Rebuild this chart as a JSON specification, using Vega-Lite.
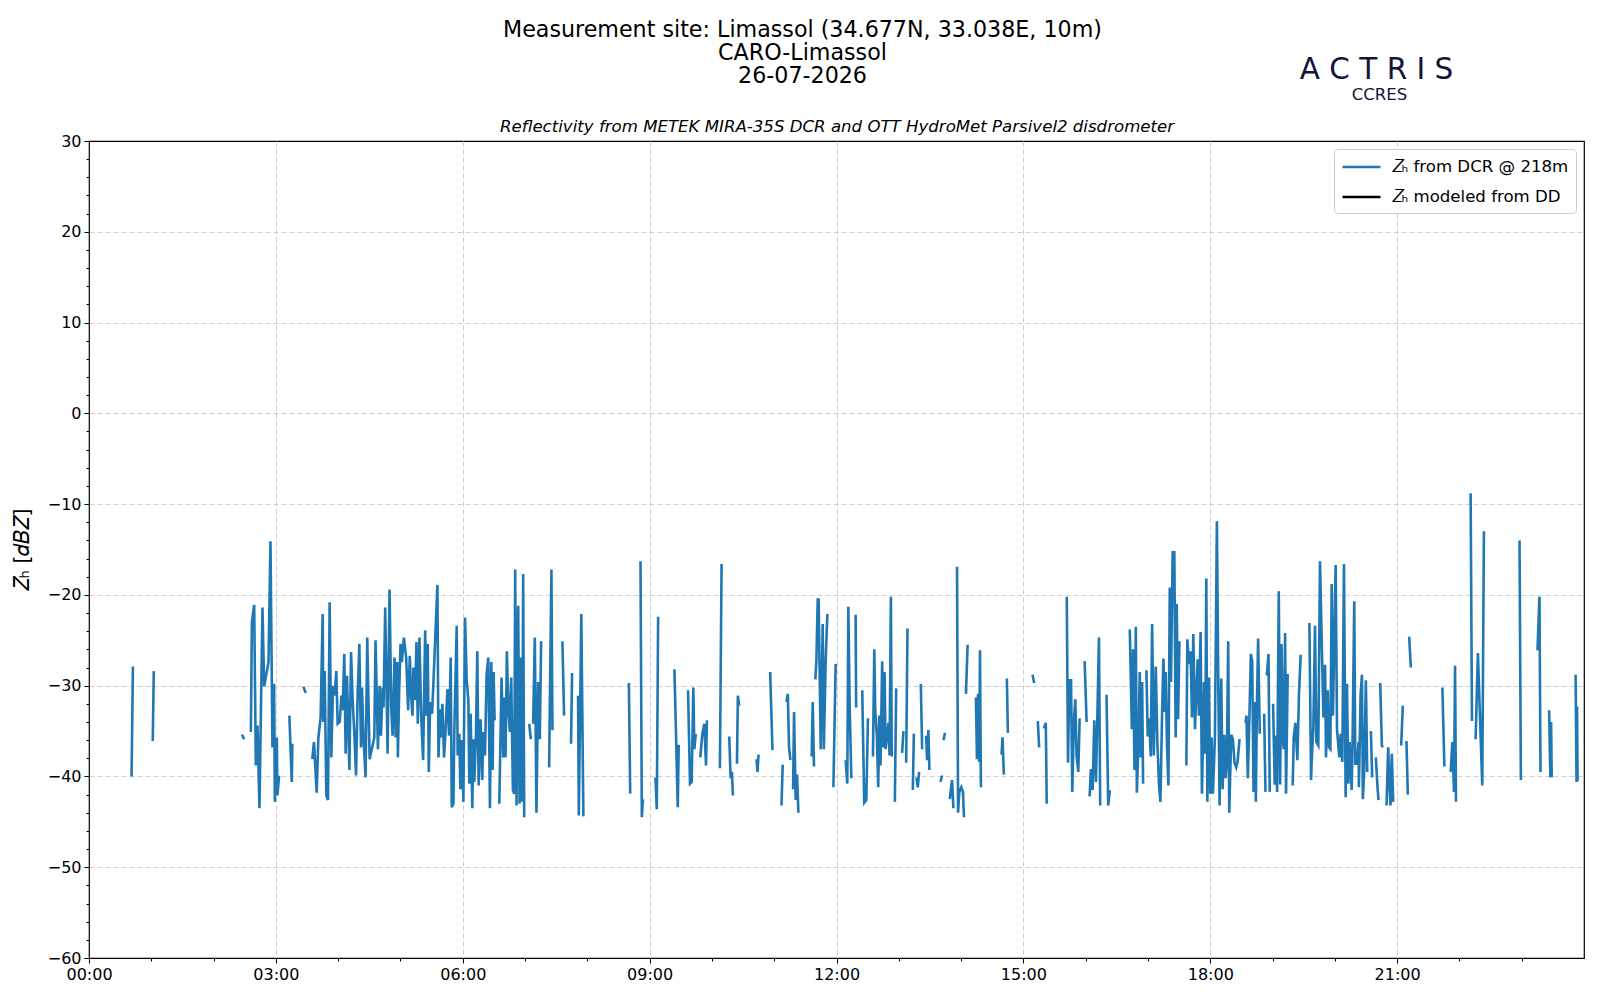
{
"$schema": "https://vega.github.io/schema/vega-lite/v6.json",
"width": 1600, "height": 1000,
"autosize": {"type": "fit", "contains": "padding"},
"padding": {"left": 12, "right": 16, "top": 18, "bottom": 18},
"background": "white",
"title": {"text": ["Measurement site: Limassol (34.677N, 33.038E, 10m)", "CARO-Limassol", "26-07-2026"], "anchor": "middle", "frame": "group", "dx": -34, "fontSize": 22.2, "fontWeight": "normal", "font": "DejaVu Sans", "lineHeight": 23, "offset": -33, "color": "black"},
"config": {
  "view": {"stroke": "black", "strokeWidth": 1.2},
  "axis": {"labelFont": "DejaVu Sans", "titleFont": "DejaVu Sans", "labelColor": "black", "tickColor": "black", "titleColor": "black", "labelFontSize": 16, "titleFontWeight": "normal"},
  "legend": {"labelFont": "DejaVu Sans", "labelFontSize": 16.6, "labelColor": "black", "labelLimit": 500}
},
"data": {"values": [
{"t":41,"z":-40},{"t":42.3,"z":-27.9},{"t":43,"z":null},
{"t":61.4,"z":-36.1},{"t":62.4,"z":-28.4},{"t":63,"z":null},
{"t":147.3,"z":-35.4},{"t":149.5,"z":-35.9},{"t":150,"z":null},
{"t":155.9,"z":-35.1},{"t":156.9,"z":-23},{"t":159.1,"z":-21.1},{"t":160.7,"z":-38.8},{"t":162.3,"z":-34.4},{"t":164.2,"z":-43.5},{"t":167.1,"z":-21.4},{"t":168.7,"z":-30.1},{"t":172.9,"z":-27.4},{"t":174.8,"z":-14.1},{"t":176.7,"z":-36.8},{"t":178.3,"z":-29.8},{"t":179,"z":-42.8},{"t":180.9,"z":-35.7},{"t":181.5,"z":-42.1},{"t":183.1,"z":-39.9},{"t":184,"z":null},
{"t":193,"z":-33.3},{"t":195.3,"z":-40.6},{"t":195.9,"z":-36.4},{"t":196.5,"z":null},
{"t":206.5,"z":-30.1},{"t":208.7,"z":-30.8},{"t":209,"z":null},
{"t":215.1,"z":-38.1},{"t":216.7,"z":-36.2},{"t":219.3,"z":-41.8},{"t":220.9,"z":-35.8},{"t":223.1,"z":-33.5},{"t":225.1,"z":-22.1},{"t":225.7,"z":-34},{"t":227,"z":-28.4},{"t":228.6,"z":-42.1},{"t":230.2,"z":-42.6},{"t":231.8,"z":-20.8},{"t":233.4,"z":-37.9},{"t":235,"z":-30},{"t":236.6,"z":-31.1},{"t":238.2,"z":-28.4},{"t":239.5,"z":-34.2},{"t":241.5,"z":-34},{"t":243.1,"z":-31.1},{"t":244.3,"z":-32.7},{"t":245.9,"z":-26.5},{"t":247.2,"z":-37.5},{"t":248.5,"z":-28.9},{"t":250.8,"z":-39.3},{"t":252.4,"z":-26.3},{"t":254,"z":-31.8},{"t":255.6,"z":-35.3},{"t":257.2,"z":-39.9},{"t":258.8,"z":-30.9},{"t":260.4,"z":-25.4},{"t":262,"z":-36.8},{"t":262.9,"z":-30.2},{"t":264.5,"z":-35.9},{"t":266.4,"z":-40.1},{"t":268,"z":-24.7},{"t":270.3,"z":-38.1},{"t":274.8,"z":-35.7},{"t":276,"z":-25},{"t":278.3,"z":-37},{"t":279.9,"z":-30},{"t":281.2,"z":-35.5},{"t":282.8,"z":-30.2},{"t":283.7,"z":-32.4},{"t":285.3,"z":-21.4},{"t":287.6,"z":-37.5},{"t":289.5,"z":-19.4},{"t":291.1,"z":-32.4},{"t":292.4,"z":-35.5},{"t":294.3,"z":-26.9},{"t":295.3,"z":-35.7},{"t":296.9,"z":-27.4},{"t":297.5,"z":-37.9},{"t":298.8,"z":-30.4},{"t":300.1,"z":-25.4},{"t":301.3,"z":-27.4},{"t":303.3,"z":-24.7},{"t":305.5,"z":-26.9},{"t":307.4,"z":-32.7},{"t":309,"z":-26.7},{"t":310.3,"z":-31.1},{"t":311.6,"z":-33.3},{"t":312.5,"z":-28},{"t":314.1,"z":-31.6},{"t":315.4,"z":-25.2},{"t":316.7,"z":-34.2},{"t":318.3,"z":-24.7},{"t":319.9,"z":-33.1},{"t":321.8,"z":-38.2},{"t":323.8,"z":-23.9},{"t":325,"z":-33.3},{"t":326.3,"z":-25.4},{"t":327.3,"z":-39.5},{"t":328.6,"z":-31.8},{"t":330.5,"z":-33.1},{"t":335.6,"z":-18.9},{"t":336.6,"z":-37.9},{"t":338.2,"z":-32.6},{"t":339.1,"z":-35.7},{"t":340.4,"z":-32},{"t":342,"z":-37.9},{"t":343.6,"z":-34.6},{"t":345.2,"z":-30.4},{"t":346.8,"z":-35.5},{"t":348.4,"z":-26.9},{"t":349.4,"z":-43.4},{"t":351,"z":-43},{"t":351.9,"z":-34.9},{"t":354.2,"z":-23.4},{"t":355.1,"z":-37.7},{"t":356.7,"z":-35.3},{"t":357.7,"z":-41.4},{"t":359.3,"z":-36},{"t":360.6,"z":-42.8},{"t":362.2,"z":-22.5},{"t":363.8,"z":-29.4},{"t":365.4,"z":-31.6},{"t":366.3,"z":-40.8},{"t":367.6,"z":-33.1},{"t":369.2,"z":-43.5},{"t":370.2,"z":-35.9},{"t":371.1,"z":-40.6},{"t":372.7,"z":-35.7},{"t":374,"z":-26.2},{"t":375.3,"z":-41},{"t":377.2,"z":-33.7},{"t":378.8,"z":-40.4},{"t":379.8,"z":-35.1},{"t":381.4,"z":-37.7},{"t":383,"z":-28.7},{"t":384.6,"z":-26.9},{"t":386.2,"z":-43.5},{"t":387.5,"z":-27.4},{"t":388.8,"z":-39.3},{"t":389.7,"z":-28.5},{"t":390.7,"z":-33.8},{"t":391.5,"z":null},
{"t":395.2,"z":-43},{"t":397.4,"z":-29.1},{"t":399,"z":-37.9},{"t":400,"z":-31.3},{"t":401.2,"z":-37.9},{"t":402.5,"z":-26.2},{"t":404.1,"z":-33.1},{"t":405.4,"z":-35.1},{"t":406.7,"z":-29.1},{"t":408.3,"z":-41.5},{"t":409.6,"z":-41.9},{"t":410.5,"z":-17.2},{"t":411.8,"z":-43.2},{"t":413.4,"z":-21.2},{"t":414.7,"z":-43},{"t":416,"z":-26.9},{"t":417.3,"z":-42.8},{"t":418.2,"z":-17.7},{"t":419.2,"z":-44.5},{"t":420,"z":null},
{"t":424,"z":-34.2},{"t":425.6,"z":-35.9},{"t":426.2,"z":null},
{"t":427.8,"z":-34.2},{"t":429.4,"z":-24.7},{"t":431,"z":-44},{"t":432.6,"z":-29.6},{"t":434.2,"z":-35.9},{"t":435.5,"z":-25.1},{"t":436,"z":null},
{"t":443.2,"z":-39},{"t":445.4,"z":-17.2},{"t":446.4,"z":-34.9},{"t":447,"z":null},
{"t":456,"z":-25.1},{"t":457.6,"z":-33.3},{"t":458,"z":null},
{"t":464.3,"z":-36.4},{"t":465.3,"z":-28.6},{"t":466,"z":null},
{"t":471.1,"z":-31.1},{"t":471.8,"z":-44.3},{"t":474.2,"z":-22.1},{"t":476.2,"z":-44.4},{"t":477,"z":null},
{"t":520,"z":-29.7},{"t":521.3,"z":-41.9},{"t":522,"z":null},
{"t":531.2,"z":-16.3},{"t":532.5,"z":-44.5},{"t":533.5,"z":-42.5},{"t":534,"z":null},
{"t":545.6,"z":-40.1},{"t":546.9,"z":-43.6},{"t":548.2,"z":-22.4},{"t":549,"z":null},
{"t":563.9,"z":-28.2},{"t":567.1,"z":-43.4},{"t":568,"z":-36.5},{"t":568.6,"z":null},
{"t":577,"z":-30.5},{"t":578.9,"z":-40.8},{"t":580.5,"z":-40.6},{"t":582.1,"z":-30.2},{"t":583.1,"z":-37},{"t":584.4,"z":-35.3},{"t":585,"z":null},
{"t":588.8,"z":-37.9},{"t":590.8,"z":-35.3},{"t":592.7,"z":-34.2},{"t":594.3,"z":-38.8},{"t":595.2,"z":-33.8},{"t":596,"z":null},
{"t":607.7,"z":-39.1},{"t":609.3,"z":-16.6},{"t":610,"z":null},
{"t":616.7,"z":-35.6},{"t":618,"z":-40.2},{"t":619.3,"z":-39.5},{"t":620.2,"z":-42.1},{"t":621,"z":null},
{"t":624.1,"z":-38.6},{"t":625,"z":-31.1},{"t":626.3,"z":-32.2},{"t":627,"z":null},
{"t":643,"z":-38.1},{"t":643.9,"z":-39.5},{"t":644.9,"z":-37.6},{"t":645.5,"z":null},
{"t":656.1,"z":-28.5},{"t":658.3,"z":-37.1},{"t":659,"z":null},
{"t":667,"z":-43.2},{"t":668.2,"z":-38.7},{"t":669,"z":null},
{"t":671.8,"z":-31.8},{"t":673.1,"z":-30.9},{"t":674.3,"z":-36.8},{"t":675.6,"z":-38.2},{"t":676.2,"z":null},
{"t":678.2,"z":-41.4},{"t":679.1,"z":-32.9},{"t":680.7,"z":-42.6},{"t":682,"z":-39.8},{"t":683.3,"z":-44},{"t":684,"z":null},
{"t":696.1,"z":-37.8},{"t":697.1,"z":-31.8},{"t":698.3,"z":-38.9},{"t":699,"z":null},
{"t":699.6,"z":-29.3},{"t":700.6,"z":-27.4},{"t":701.9,"z":-20.5},{"t":702.8,"z":-20.5},{"t":704.8,"z":-37},{"t":706.7,"z":-23.2},{"t":707.8,"z":-37},{"t":709.6,"z":-27.1},{"t":711.2,"z":-22.1},{"t":712,"z":null},
{"t":717,"z":-41.2},{"t":719.2,"z":-27.6},{"t":720,"z":null},
{"t":728.8,"z":-38.2},{"t":730.4,"z":-40.8},{"t":731.4,"z":-21.3},{"t":732.7,"z":-32.4},{"t":734.3,"z":-40.2},{"t":735,"z":null},
{"t":738.4,"z":-22.2},{"t":738.9,"z":-32.4},{"t":739.5,"z":null},
{"t":744.8,"z":-30.5},{"t":746.7,"z":-42.9},{"t":748.7,"z":-42.6},{"t":750.3,"z":-33.6},{"t":751,"z":null},
{"t":755.1,"z":-37.8},{"t":756.4,"z":-26},{"t":757.3,"z":-32.7},{"t":758.9,"z":-35.6},{"t":760.2,"z":-41.2},{"t":761.2,"z":-33.3},{"t":762.4,"z":-38.8},{"t":764,"z":-27.3},{"t":765,"z":-36.8},{"t":766.3,"z":-28.5},{"t":767.3,"z":-37},{"t":770.1,"z":-34.1},{"t":771.1,"z":-37.7},{"t":772.4,"z":-20.2},{"t":773.2,"z":-37.8},{"t":774,"z":null},
{"t":776.2,"z":-42.8},{"t":777.5,"z":-30.3},{"t":778,"z":null},
{"t":783.2,"z":-37.4},{"t":784.5,"z":-35},{"t":785,"z":null},
{"t":787.1,"z":-38.5},{"t":788.4,"z":-23.7},{"t":789,"z":null},
{"t":793.5,"z":-41.5},{"t":794.5,"z":-35.3},{"t":795,"z":null},
{"t":797,"z":-40.1},{"t":798.3,"z":-41.2},{"t":799.6,"z":-39.5},{"t":800.2,"z":null},
{"t":801.2,"z":-29.8},{"t":802.5,"z":-37},{"t":803,"z":null},
{"t":806.3,"z":-35.5},{"t":807.3,"z":-38.2},{"t":808.5,"z":-34.9},{"t":809.5,"z":-39.3},{"t":810,"z":null},
{"t":820.1,"z":-40.6},{"t":821.7,"z":-39.9},{"t":822.3,"z":null},
{"t":823,"z":-36},{"t":824.6,"z":-35.2},{"t":825,"z":null},
{"t":829.1,"z":-42.5},{"t":831.3,"z":-40.4},{"t":832.6,"z":-43.5},{"t":833,"z":null},
{"t":836.1,"z":-16.9},{"t":837.1,"z":-44},{"t":838.3,"z":-41.7},{"t":840.2,"z":-41.2},{"t":841.8,"z":-41.7},{"t":842.8,"z":-44.5},{"t":843.5,"z":null},
{"t":844.7,"z":-30.9},{"t":846.3,"z":-25.5},{"t":847,"z":null},
{"t":854.3,"z":-31.3},{"t":855.3,"z":-38.1},{"t":856.3,"z":-30.9},{"t":857.5,"z":-38.4},{"t":858.2,"z":-26.1},{"t":859.1,"z":-41.2},{"t":860,"z":null},
{"t":879,"z":-37.6},{"t":879.9,"z":-35.7},{"t":881.2,"z":-39.8},{"t":882,"z":null},
{"t":884.1,"z":-29.2},{"t":885.1,"z":-35.2},{"t":886,"z":null},
{"t":908.8,"z":-28.8},{"t":910.4,"z":-29.7},{"t":911,"z":null},
{"t":913.9,"z":-33.9},{"t":915.2,"z":-36.8},{"t":916,"z":null},
{"t":919.7,"z":-34.7},{"t":921.6,"z":-34.1},{"t":922.5,"z":-43},{"t":923,"z":null},
{"t":941.8,"z":-20.2},{"t":943,"z":-38.5},{"t":944.3,"z":-29.4},{"t":945.9,"z":-29.4},{"t":947.1,"z":-41.7},{"t":948.7,"z":-33.8},{"t":950,"z":-31.5},{"t":951.3,"z":-37.8},{"t":952.9,"z":-39.5},{"t":954.2,"z":-33.6},{"t":955,"z":null},
{"t":959,"z":-27.3},{"t":960.9,"z":-34},{"t":961.5,"z":null},
{"t":963.8,"z":-42.2},{"t":965.1,"z":-39.2},{"t":966.7,"z":-41.5},{"t":968.3,"z":-33.8},{"t":969.9,"z":-40.6},{"t":971.2,"z":-33.8},{"t":972.8,"z":-24.7},{"t":974,"z":-43.2},{"t":975,"z":null},
{"t":980.1,"z":-31},{"t":981.7,"z":-43.2},{"t":983.3,"z":-41.5},{"t":984,"z":null},
{"t":1002.5,"z":-23.8},{"t":1004.5,"z":-34.8},{"t":1005.7,"z":-26},{"t":1007,"z":-39.3},{"t":1008.3,"z":-23.5},{"t":1009.3,"z":-41.8},{"t":1010.9,"z":-36},{"t":1012.1,"z":-28.5},{"t":1013.1,"z":-37.9},{"t":1014.4,"z":-29.6},{"t":1015.3,"z":-40.8},{"t":1016,"z":null},
{"t":1018.5,"z":-28.3},{"t":1019.8,"z":-35.6},{"t":1021.1,"z":-33.6},{"t":1022.7,"z":-37.8},{"t":1024,"z":-23.2},{"t":1025.6,"z":-37.7},{"t":1027.5,"z":-27.9},{"t":1029.1,"z":-36.4},{"t":1030.7,"z":-41},{"t":1032,"z":-42.8},{"t":1033.6,"z":-33.1},{"t":1034.9,"z":-27},{"t":1036.2,"z":-32.9},{"t":1037.1,"z":-28.5},{"t":1038.4,"z":-36.8},{"t":1039.7,"z":-41},{"t":1041,"z":-19.2},{"t":1042.2,"z":-29.6},{"t":1043.8,"z":-15.3},{"t":1045.4,"z":-15.3},{"t":1046.7,"z":-35.7},{"t":1047.7,"z":-21},{"t":1049,"z":-33.7},{"t":1050.3,"z":-25.1},{"t":1051,"z":null},
{"t":1057,"z":-38.8},{"t":1057.9,"z":-24.9},{"t":1059.5,"z":-27.6},{"t":1061.1,"z":-26.2},{"t":1062.4,"z":-33.5},{"t":1063.7,"z":-24.3},{"t":1065.3,"z":-34.8},{"t":1066.6,"z":-30.9},{"t":1067.9,"z":-27.1},{"t":1069.1,"z":-33.3},{"t":1070.7,"z":-24.1},{"t":1072,"z":-41.9},{"t":1074,"z":-29.6},{"t":1075.2,"z":-37.5},{"t":1076.2,"z":-18.2},{"t":1077.2,"z":-42.8},{"t":1078.7,"z":-29.1},{"t":1080,"z":-41.9},{"t":1081.3,"z":-35.7},{"t":1082.6,"z":-41.9},{"t":1084.5,"z":-35.7},{"t":1086.4,"z":-11.9},{"t":1087.7,"z":-29.1},{"t":1089,"z":-43.2},{"t":1090.6,"z":-29.2},{"t":1091.9,"z":-41.4},{"t":1093.5,"z":-35.4},{"t":1094.8,"z":-40.2},{"t":1096,"z":-38.2},{"t":1097.3,"z":-25.1},{"t":1098.3,"z":-44},{"t":1100.2,"z":-35.4},{"t":1101.8,"z":-35.9},{"t":1103.4,"z":-38.5},{"t":1105,"z":-39},{"t":1106.3,"z":-38.4},{"t":1108.2,"z":-35.9},{"t":1109,"z":null},
{"t":1114,"z":-34.1},{"t":1114.9,"z":-33.3},{"t":1116.2,"z":-40.2},{"t":1117.8,"z":-33.1},{"t":1119.1,"z":-26.5},{"t":1120.4,"z":-27.3},{"t":1121.7,"z":-41.7},{"t":1123,"z":-31.8},{"t":1123.9,"z":-42.8},{"t":1124.9,"z":-32.7},{"t":1126.1,"z":-24.8},{"t":1127.7,"z":-35.3},{"t":1128.5,"z":null},
{"t":1131.9,"z":-33.1},{"t":1133.2,"z":-41.7},{"t":1133.8,"z":null},
{"t":1134.5,"z":-28.9},{"t":1136.1,"z":-26.5},{"t":1137.3,"z":-41.7},{"t":1138,"z":null},
{"t":1140.5,"z":-32},{"t":1142.1,"z":-40.9},{"t":1143.4,"z":-35.5},{"t":1144.4,"z":-41.7},{"t":1146,"z":-19.6},{"t":1147.3,"z":-40.9},{"t":1148.6,"z":-25.4},{"t":1149.8,"z":-35.9},{"t":1150.8,"z":-37},{"t":1152.1,"z":-24.2},{"t":1153,"z":-41.9},{"t":1154.6,"z":-28.7},{"t":1155.5,"z":null},
{"t":1159.4,"z":-41},{"t":1160.4,"z":-35.7},{"t":1162,"z":-34.1},{"t":1163.9,"z":-38.2},{"t":1165.5,"z":-30.9},{"t":1167.1,"z":-26.6},{"t":1168,"z":null},
{"t":1175.5,"z":-23.1},{"t":1177.1,"z":-40.4},{"t":1177.7,"z":-38.4},{"t":1179.3,"z":-34.6},{"t":1180.9,"z":-23.4},{"t":1182.2,"z":-36.2},{"t":1184.1,"z":-36.6},{"t":1185.7,"z":-16.3},{"t":1189,"z":-33.5},{"t":1190.6,"z":-27.7},{"t":1191.5,"z":-37.9},{"t":1193.1,"z":-30.5},{"t":1194.4,"z":-36.8},{"t":1195.7,"z":-37},{"t":1197,"z":-18.8},{"t":1198.2,"z":-33.3},{"t":1200.8,"z":-16.7},{"t":1202.1,"z":-34.8},{"t":1204.3,"z":-37.9},{"t":1205.6,"z":-35.3},{"t":1207.2,"z":-38.4},{"t":1208.8,"z":-16.6},{"t":1210.4,"z":-42.3},{"t":1211.7,"z":-29.8},{"t":1213,"z":-40.8},{"t":1214.3,"z":-36.2},{"t":1216.2,"z":-41.5},{"t":1217.1,"z":-36.2},{"t":1218.7,"z":-20.7},{"t":1219.7,"z":-38.6},{"t":1221.3,"z":-38.6},{"t":1222.9,"z":-36.2},{"t":1223.2,"z":-41.2},{"t":1224.8,"z":-31.1},{"t":1226.1,"z":-28.8},{"t":1227,"z":-42.5},{"t":1228.3,"z":-39.3},{"t":1229.9,"z":-29.4},{"t":1231.2,"z":-39.5},{"t":1232,"z":null},
{"t":1234.7,"z":-35},{"t":1236,"z":-40.1},{"t":1236.6,"z":null},
{"t":1239.5,"z":-37.9},{"t":1241.1,"z":-41.2},{"t":1242.1,"z":-42.6},{"t":1242.8,"z":null},
{"t":1243.7,"z":-29.7},{"t":1245.3,"z":-36.6},{"t":1246.3,"z":-36.8},{"t":1247,"z":null},
{"t":1249.8,"z":-43.2},{"t":1251.4,"z":-36.8},{"t":1252.4,"z":-40.4},{"t":1253.6,"z":-43.2},{"t":1254.9,"z":-37.5},{"t":1256.2,"z":-42.8},{"t":1257,"z":null},
{"t":1263.9,"z":-36.6},{"t":1265.5,"z":-32.2},{"t":1266,"z":null},
{"t":1269,"z":-36.1},{"t":1270.3,"z":-42},{"t":1270.9,"z":null},
{"t":1271.6,"z":-24.6},{"t":1273.2,"z":-28},{"t":1274,"z":null},
{"t":1303.6,"z":-30.2},{"t":1305.5,"z":-38.9},{"t":1306,"z":null},
{"t":1311.6,"z":-39.5},{"t":1313.2,"z":-36.2},{"t":1314.8,"z":-41.7},{"t":1315.8,"z":-27.8},{"t":1316.7,"z":-42.8},{"t":1317.5,"z":null},
{"t":1330.8,"z":-8.8},{"t":1332.1,"z":-33.9},{"t":1333,"z":null},
{"t":1335.6,"z":-35.9},{"t":1337.8,"z":-26.4},{"t":1342,"z":-41},{"t":1343.6,"z":-13},{"t":1344.5,"z":null},
{"t":1377.9,"z":-14},{"t":1379.2,"z":-40.4},{"t":1380,"z":null},
{"t":1395.2,"z":-26.1},{"t":1397.1,"z":-20.2},{"t":1398.1,"z":-39.5},{"t":1399,"z":null},
{"t":1406.4,"z":-32.7},{"t":1407.6,"z":-40.1},{"t":1408.3,"z":-34},{"t":1408.9,"z":-40.1},{"t":1409.5,"z":null},
{"t":1431.9,"z":-28.8},{"t":1432.8,"z":-40.6},{"t":1433.3,"z":-32.3},{"t":1433.8,"z":-40.5}
]},
"layer": [
  {
    "mark": {"type": "line", "strokeWidth": 2.6, "invalid": "break-paths-show-domains", "clip": true},
    "encoding": {
      "x": {"field": "t", "type": "quantitative", "scale": {"domain": [0, 1440], "nice": false, "zero": false},
        "axis": {"orient": "bottom", "values": [0, 180, 360, 540, 720, 900, 1080, 1260], "labelExpr": "utcFormat(datum.value*60000, '%H:%M')", "title": null, "grid": true, "gridDash": [5, 3], "gridColor": "#cfcfcf", "gridWidth": 1, "gridOpacity": {"condition": {"test": "datum.value == 0", "value": 0}, "value": 1}, "tickSize": 5, "domain": false, "labelPadding": 3, "labelFlush": false, "labelOverlap": false}},
      "y": {"field": "z", "type": "quantitative", "scale": {"domain": [-60, 30], "nice": false, "zero": false},
        "axis": {"orient": "left", "values": [-60, -50, -40, -30, -20, -10, 0, 10, 20, 30], "title": "𝑍ₕ [𝑑𝐵𝑍]", "titleFontSize": 20.5, "titlePadding": 15, "grid": true, "gridDash": [5, 3], "gridColor": "#cfcfcf", "gridWidth": 1, "gridOpacity": {"condition": {"test": "datum.value == -60 || datum.value == 30", "value": 0}, "value": 1}, "tickSize": 5, "domain": false, "labelPadding": 3, "labelFlush": false, "labelOverlap": false}},
      "color": {"datum": "𝑍ₕ from DCR @ 218m", "type": "nominal",
        "scale": {"domain": ["𝑍ₕ from DCR @ 218m", "𝑍ₕ modeled from DD"], "range": ["#1f77b4", "#000000"]},
        "legend": {"title": null, "orient": "top-right", "offset": 8, "symbolType": "M-2,0H2", "symbolSize": 361, "symbolStrokeWidth": 2.5, "symbolOffset": 9.5, "labelOffset": 19, "rowPadding": 10, "padding": 7, "strokeColor": "#cccccc", "fillColor": "rgba(255,255,255,0.85)", "cornerRadius": 4, "labelLimit": 500}}
    }
  },
  {
    "mark": {"type": "point", "opacity": 0},
    "encoding": {
      "x": {"field": "t", "type": "quantitative", "scale": {"domain": [0, 1440], "nice": false, "zero": false},
        "axis": {"orient": "bottom", "values": [60, 120, 240, 300, 420, 480, 600, 660, 780, 840, 960, 1020, 1140, 1200, 1320, 1380], "labels": false, "tickSize": 3, "domain": false, "grid": false, "title": "CCRES", "titleX": 1290, "titleY": -859, "titleAlign": "center", "titleBaseline": "alphabetic", "titleFontSize": 16.5, "titleColor": "#14143a"}},
      "y": {"field": "z", "type": "quantitative", "scale": {"domain": [-60, 30], "nice": false, "zero": false},
        "axis": {"orient": "left", "values": [-58, -56, -54, -52, -48, -46, -44, -42, -38, -36, -34, -32, -28, -26, -24, -22, -18, -16, -14, -12, -8, -6, -4, -2, 2, 4, 6, 8, 12, 14, 16, 18, 22, 24, 26, 28], "labels": false, "tickSize": 3, "domain": false, "grid": false, "title": null}}
    }
  },
  {
    "mark": {"type": "point", "opacity": 0},
    "encoding": {
      "x": {"field": "t", "type": "quantitative", "scale": {"domain": [0, 1440], "nice": false, "zero": false},
        "axis": {"orient": "top", "labels": false, "ticks": false, "domain": false, "grid": false, "title": "Reflectivity from METEK MIRA-35S DCR and OTT HydroMet Parsivel2 disdrometer", "titleFontStyle": "italic", "titleFontSize": 16.6, "titlePadding": 7}},
      "y": {"field": "z", "type": "quantitative", "scale": {"domain": [-60, 30], "nice": false, "zero": false},
        "axis": {"orient": "right", "labels": false, "ticks": false, "domain": false, "grid": false, "title": "A C T R I S", "titleAngle": 0, "titleX": -208, "titleY": -63, "titleAlign": "center", "titleBaseline": "alphabetic", "titleFontSize": 29.5, "titleColor": "#14143a"}}
    }
  }
],
"resolve": {"axis": {"x": "independent", "y": "independent"}}
}
